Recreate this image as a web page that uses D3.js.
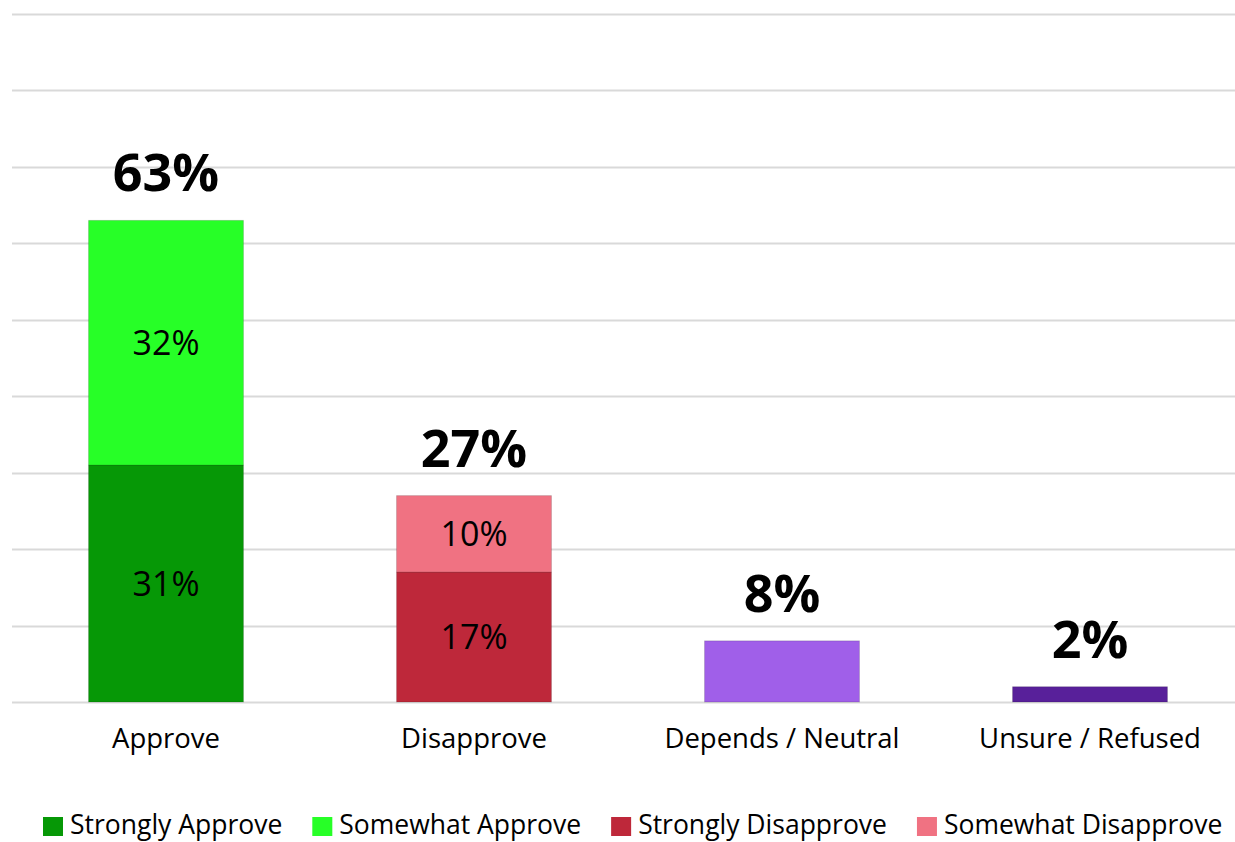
<!DOCTYPE html>
<html><head><meta charset="utf-8">
<script src="https://cdn.jsdelivr.net/npm/d3@7"></script>
<style>body{margin:0;background:#fff}svg{display:block}</style>
</head><body>
<svg id="c" width="1235" height="842"></svg>
<script>
const categories = ["Approve", "Disapprove", "Depends / Neutral", "Unsure / Refused"];
const stronglyApprove = [31, 0, 0, 0];
const somewhatApprove = [32, 0, 0, 0];
const stronglyDisapprove = [0, 17, 0, 0];
const somewhatDisapprove = [0, 10, 0, 0];
const dependsNeutral = [0, 0, 8, 0];
const unsureRefused = [0, 0, 0, 2];
const totals = [63, 27, 8, 2];
const gridTicks = [0, 10, 20, 30, 40, 50, 60, 70, 80, 90];
const seriesNames = ["Strongly Approve", "Somewhat Approve", "Strongly Disapprove", "Somewhat Disapprove", "Depends / Neutral", "Unsure / Refused"];
const seriesValues = [stronglyApprove, somewhatApprove, stronglyDisapprove, somewhatDisapprove, dependsNeutral, unsureRefused];
const seriesColors = ["#069806", "#27FF27", "#BE283A", "#F07282", "#A05FE9", "#58209A"];
const showInnerLabel = [true, true, true, true, false, false];
const legendCount = 4;

const svg = d3.select("#c");
const FONT = "'Open Sans', sans-serif";
const x = d3.scaleBand().domain(categories).range([12, 1244]).paddingInner(0.497).paddingOuter(0.2485);
const y = d3.scaleLinear().domain([0, 90]).range([702, 14]);

// gridlines
svg.append("g").selectAll("line").data(gridTicks).join("line")
  .attr("x1", 12).attr("x2", 1235)
  .attr("y1", d => Math.round(y(d)) + 0.5).attr("y2", d => Math.round(y(d)) + 0.5)
  .attr("stroke", "#d9d9d9").attr("stroke-width", 2);

// stacked data
const rows = categories.map((c, i) => {
  const r = {cat: c};
  seriesNames.forEach((s, j) => r[s] = seriesValues[j][i]);
  return r;
});
const stack = d3.stack().keys(seriesNames)(rows);

const g = svg.append("g");
stack.forEach((layer, j) => {
  layer.forEach((seg, i) => {
    const v = seg[1] - seg[0];
    if (v <= 0) return;
    const cat = categories[i];
    g.append("rect")
      .attr("x", x(cat)).attr("width", x.bandwidth())
      .attr("y", y(seg[1])).attr("height", y(seg[0]) - y(seg[1]))
      .attr("fill", seriesColors[j])
      .attr("stroke", "rgba(0,0,0,0.15)").attr("stroke-width", 1);
    if (showInnerLabel[j]) {
      g.append("text")
        .attr("x", x(cat) + x.bandwidth() / 2)
        .attr("y", (y(seg[0]) + y(seg[1])) / 2)
        .attr("dy", "0.36em")
        .attr("text-anchor", "middle")
        .attr("font-family", FONT).attr("font-size", 34)
        .attr("fill", "#000")
        .text(v + "%");
    }
  });
});

// totals
svg.append("g").selectAll("text").data(totals).join("text")
  .attr("x", (d, i) => x(categories[i]) + x.bandwidth() / 2)
  .attr("y", d => y(d) - 29)
  .attr("text-anchor", "middle")
  .attr("font-family", FONT).attr("font-weight", "bold").attr("font-size", 52)
  .attr("fill", "#000")
  .text(d => d + "%");

// category axis labels
const xAxis = svg.append("g").attr("transform", "translate(0,702)")
  .call(d3.axisBottom(x).tickSize(0).tickPadding(26));
xAxis.select(".domain").remove();
xAxis.selectAll("text").attr("font-family", FONT).attr("font-size", 27.5).attr("fill", "#000");

// legend
const leg = svg.append("g");
let lx = 43;
for (let j = 0; j < legendCount; j++) {
  const it = leg.append("g");
  it.append("rect").attr("x", lx).attr("y", 817).attr("width", 20).attr("height", 19)
    .attr("fill", seriesColors[j]);
  const t = it.append("text").attr("x", lx + 27).attr("y", 834)
    .attr("font-family", FONT).attr("font-size", 26.5).attr("fill", "#000")
    .text(seriesNames[j]);
  lx = lx + 27 + t.node().getComputedTextLength() + 30;
}
</script>
</body></html>
